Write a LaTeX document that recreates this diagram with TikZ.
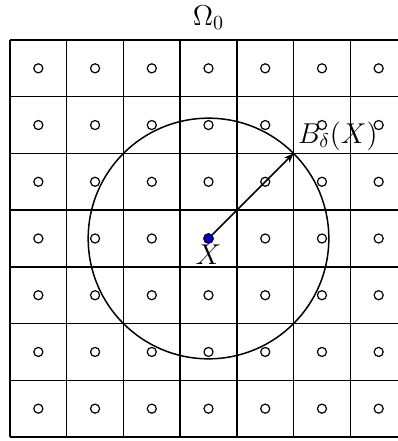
\documentclass[tikz,border=0pt]{standalone}
\usetikzlibrary{arrows.meta,positioning}
\begin{document}
\begin{tikzpicture}[>={Stealth[length=1.7mm,width=1.3mm]},font=\Large,line width=0.75pt,
 pt/.style={draw,circle,inner sep=0pt,minimum size=0.16cm,line width=0.6pt},
 ctr/.style={draw,circle,fill=blue!85!black,inner sep=0pt,minimum size=0.17cm,line width=0.5pt}]
\useasboundingbox (-0.176,-0.07) rectangle (6.825,7.705);
\draw (0,0) grid (7,7);
\foreach \i in {0,...,6} \foreach \j in {0,...,6} \node[pt] (c\i\j) at (\i+0.5,\j+0.5) {};
\node[ctr] (X) at (3.5,3.5) {};
\node[anchor=north,inner sep=1pt] (xlab) at (3.5,3.43) {$X$};
\coordinate (corner) at (5,5);
\draw (X.center) circle (2.1213);
\draw[->] (X) -- (corner);
\node[anchor=south west,inner sep=1pt] (blab) at (5.03,5.0) {$B_{\delta}(X)$};
\node (omega) at (3.5,7.39) {$\Omega_0$};
\end{tikzpicture}
\end{document}
